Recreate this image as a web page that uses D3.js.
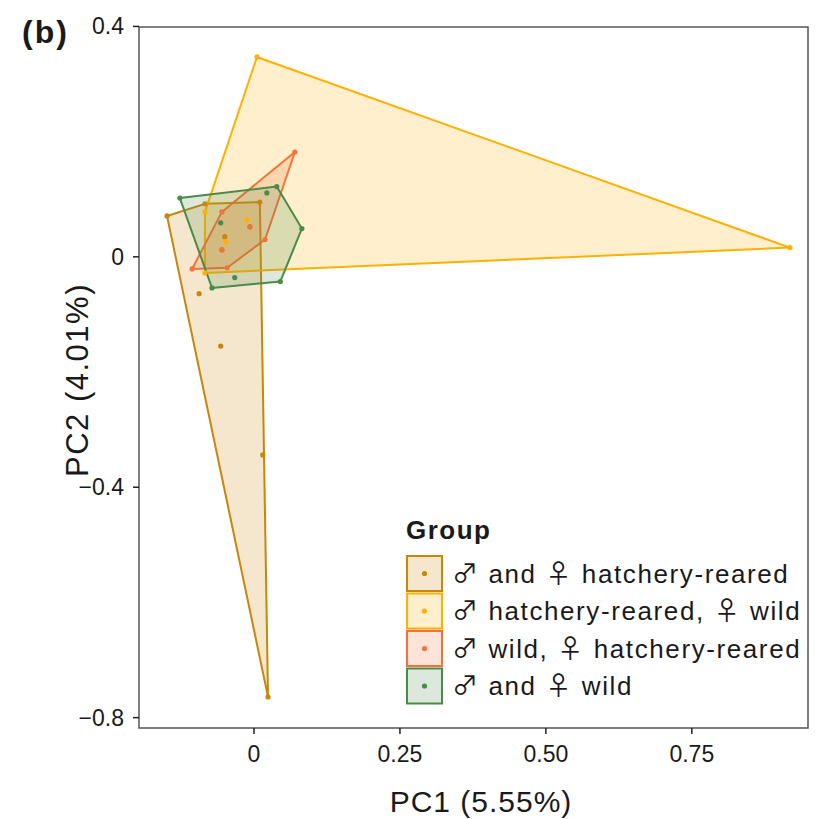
<!DOCTYPE html>
<meta charset="UTF-8">
<style>
  body { margin: 0; background: #fff; }
  text { font-family: "Liberation Sans", Arial, sans-serif; fill: #1a1a1a; }
  .sym { font-family: "Noto Sans CJK JP", "DejaVu Sans", sans-serif; }
</style>
<svg width="828" height="819"></svg>
<script src="https://cdn.jsdelivr.net/npm/d3@7"></script>
<script>

// groups, in legend order (symbol-split so the sex signs can use another font)
var groups = [["\u2642", " and ", "\u2640", " hatchery-reared"],
              ["\u2642", " hatchery-reared, ", "\u2640", " wild"],
              ["\u2642", " wild, ", "\u2640", " hatchery-reared"],
              ["\u2642", " and ", "\u2640", " wild"]];
var colors = ["#c8860a", "#ffb000", "#f4733a", "#4a8b4a"];

// PC1 / PC2 scores per group
var pc1_hh = [-0.149, 0.024, 0.015, 0.010, -0.084, -0.094, -0.057, -0.050, -0.007, -0.055];
var pc2_hh = [ 0.071, -0.764, -0.344, 0.095, 0.092, -0.064, -0.155, 0.035, 0.052, 0.012];
var pc1_hw = [0.005, 0.918, -0.084, -0.084, -0.012, -0.048];
var pc2_hw = [0.347, 0.016, -0.028, 0.078, 0.064, 0.026];
var pc1_wh = [0.070, 0.019, -0.046, -0.106, -0.055, -0.055, -0.007];
var pc2_wh = [0.182, 0.030, -0.019, -0.021, 0.078, 0.012, 0.052];
var pc1_ww = [-0.127, 0.039, 0.022, 0.082, 0.045, -0.033, -0.072, -0.057];
var pc2_ww = [ 0.102, 0.122, 0.111, 0.049, -0.043, -0.036, -0.054, 0.059];

var xTicks = [0, 0.25, 0.5, 0.75],
    xTickLabels = ["0", "0.25", "0.50", "0.75"];
var yTicks = [0.4, 0, -0.4, -0.8],
    yTickLabels = ["0.4", "0", "\u22120.4", "\u22120.8"];

var svg = d3.select("svg");
var pLeft = 139, pRight = 808, pTop = 27, pBottom = 728;

var x = d3.scaleLinear().domain([-0.197, 0.949]).range([pLeft, pRight]);
var y = d3.scaleLinear().domain([-0.818, 0.399]).range([pBottom, pTop]);

var series = [[pc1_hh, pc2_hh], [pc1_hw, pc2_hw], [pc1_wh, pc2_wh], [pc1_ww, pc2_ww]];

series.forEach(function(s, i) {
  var pts = s[0].map(function(v, j) { return [x(v), y(s[1][j])]; });
  var hull = d3.polygonHull(pts);
  svg.append("path")
      .attr("d", "M" + hull.join("L") + "Z")
      .attr("fill", colors[i]).attr("fill-opacity", 0.2)
      .attr("stroke", colors[i]).attr("stroke-width", 2)
      .attr("stroke-linejoin", "round");
});
series.forEach(function(s, i) {
  svg.append("g").selectAll("circle").data(s[0]).join("circle")
      .attr("cx", function(d) { return x(d); })
      .attr("cy", function(d, j) { return y(s[1][j]); })
      .attr("r", 2.6)
      .attr("fill", colors[i]);
});

// panel border
svg.append("rect").attr("x", pLeft).attr("y", pTop)
    .attr("width", pRight - pLeft).attr("height", pBottom - pTop)
    .attr("fill", "none").attr("stroke", "#555").attr("stroke-width", 1.5);

// axes
var xAxis = svg.append("g");
xTicks.forEach(function(t, i) {
  xAxis.append("line").attr("x1", x(t)).attr("x2", x(t))
      .attr("y1", pBottom).attr("y2", pBottom + 6).attr("stroke", "#222").attr("stroke-width", 1.5);
  xAxis.append("text").attr("x", x(t)).attr("y", pBottom + 34)
      .attr("text-anchor", "middle").style("font-size", "23px").text(xTickLabels[i]);
});
var yAxis = svg.append("g");
yTicks.forEach(function(t, i) {
  yAxis.append("line").attr("x1", pLeft - 6).attr("x2", pLeft)
      .attr("y1", y(t)).attr("y2", y(t)).attr("stroke", "#222").attr("stroke-width", 1.5);
  yAxis.append("text").attr("x", pLeft - 15).attr("y", y(t)).attr("dy", "0.35em")
      .attr("text-anchor", "end").style("font-size", "23px").text(yTickLabels[i]);
});

svg.append("text").attr("x", 481).attr("y", 812).attr("text-anchor", "middle")
    .style("font-size", "30px").style("letter-spacing", "1px").text("PC1 (5.55%)");
svg.append("text").attr("transform", "translate(88,380) rotate(-90)")
    .attr("text-anchor", "middle").style("font-size", "31px").style("letter-spacing", "1.5px")
    .text("PC2 (4.01%)");

svg.append("text").attr("x", 22).attr("y", 43)
    .style("font-size", "32px").style("font-weight", "bold").style("letter-spacing", "2px").text("(b)");

// legend
var lg = svg.append("g").attr("transform", "translate(406,0)");
lg.append("text").attr("x", 0).attr("y", 539)
    .style("font-size", "26px").style("font-weight", "bold").style("letter-spacing", "1.5px")
    .text("Group");
groups.forEach(function(g, i) {
  var yy = 555 + i * 37.5;
  lg.append("rect").attr("x", 1).attr("y", yy + 1).attr("width", 35).attr("height", 35)
      .attr("fill", colors[i]).attr("fill-opacity", 0.2)
      .attr("stroke", colors[i]).attr("stroke-width", 2);
  lg.append("circle").attr("cx", 18.5).attr("cy", yy + 18.5).attr("r", 2.6).attr("fill", colors[i]);
  var t = lg.append("text").attr("x", 46).attr("y", yy + 18.5).attr("dy", "0.36em")
      .style("font-size", "26px").style("letter-spacing", "1.6px");
  g.forEach(function(part, k) {
    var ts = t.append("tspan").text(part);
    if (k % 2 === 0) ts.attr("class", "sym").style("font-size", "26px");
  });
});
</script>
